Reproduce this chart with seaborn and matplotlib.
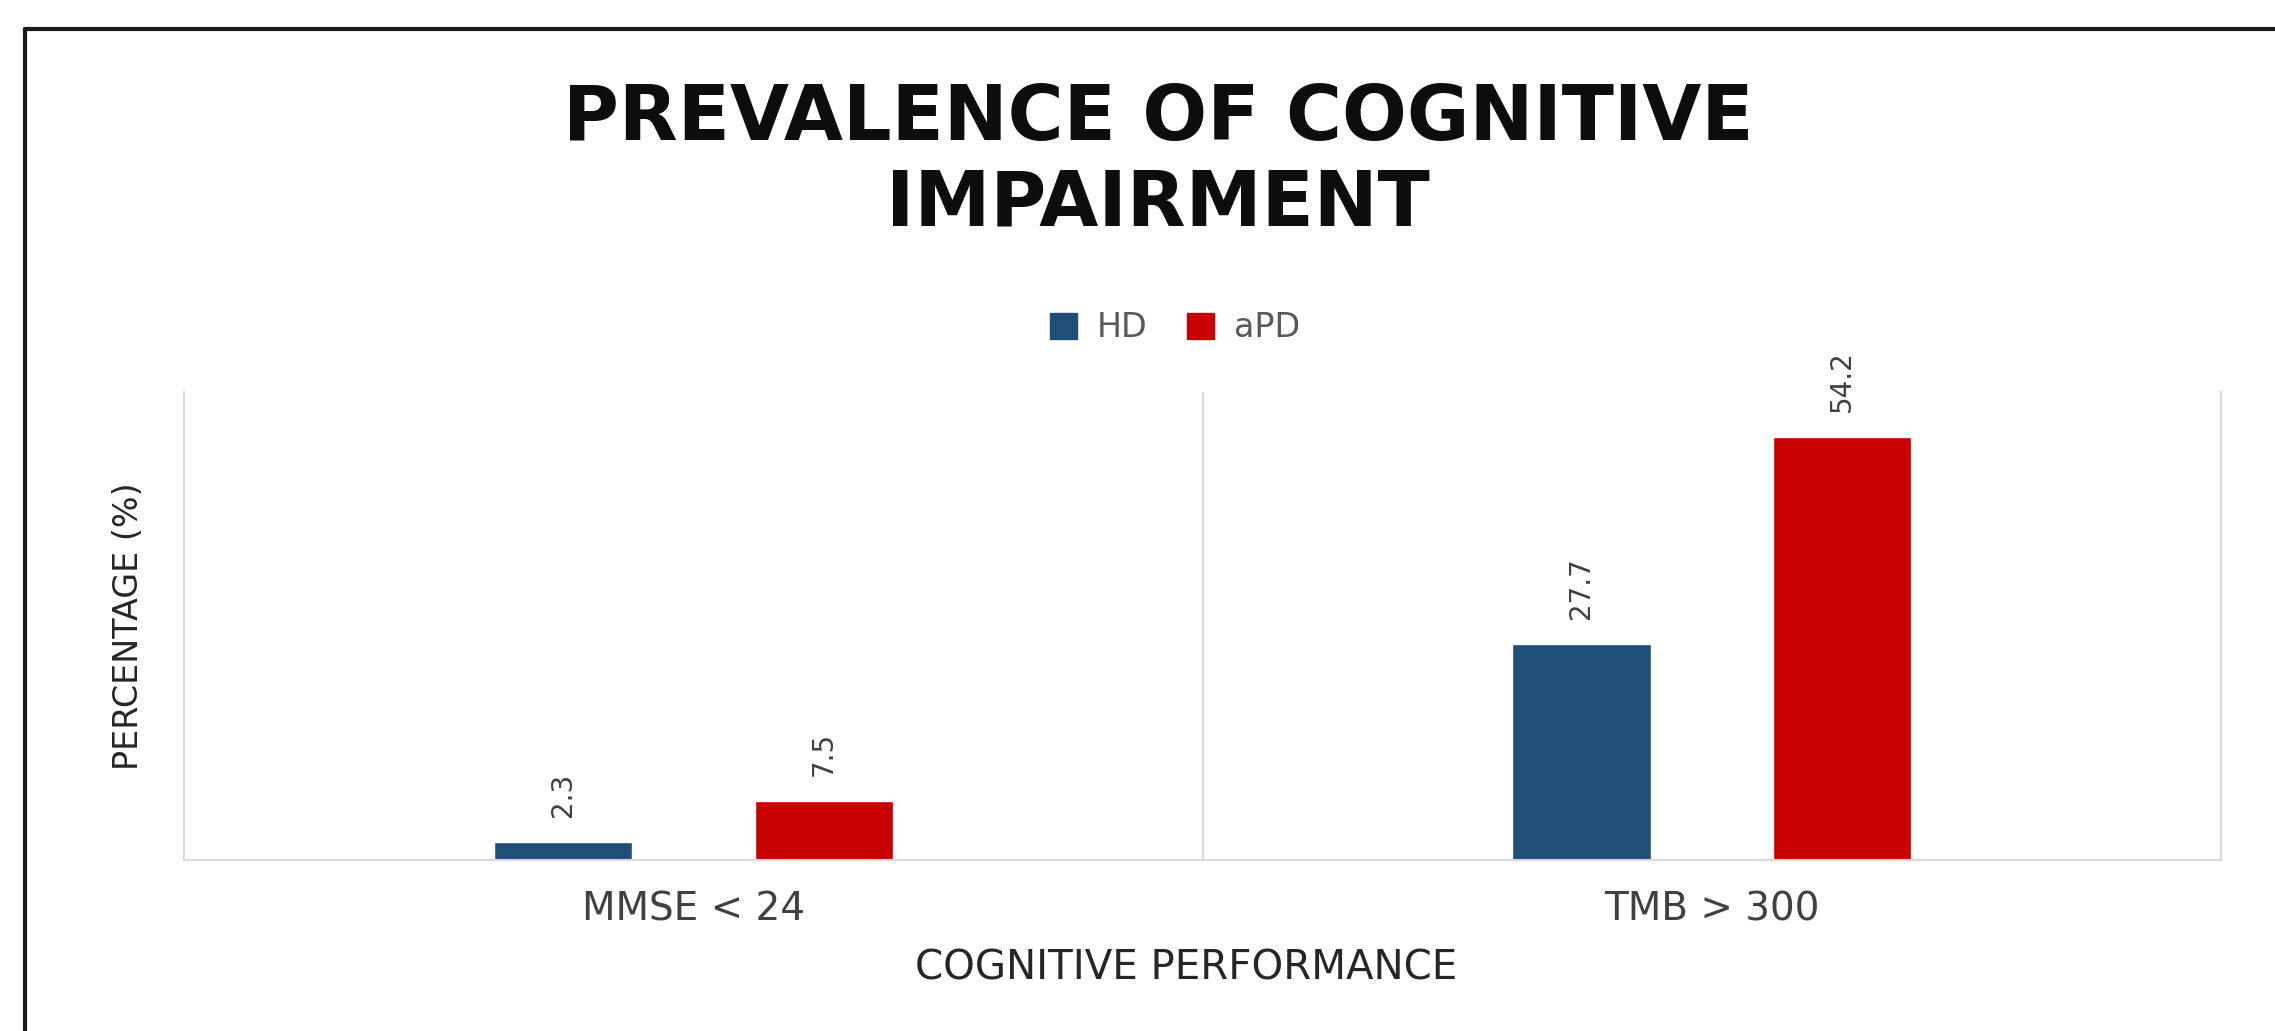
import matplotlib
matplotlib.use("Agg")
import matplotlib.pyplot as plt
import seaborn as sns
import pandas as pd
from matplotlib.patches import Patch
from matplotlib.lines import Line2D

# ---- data ----
categories = ["MMSE < 24", "TMB > 300"]
groups = ["HD", "aPD"]
hd_values = [2.3, 27.7]
apd_values = [7.5, 54.2]
colors = ["#1F4E79", "#C80000"]

df = pd.DataFrame({
    "category": categories * 2,
    "group": [groups[0]] * len(categories) + [groups[1]] * len(categories),
    "value": hd_values + apd_values,
})

sns.set_theme(style="white")
plt.rcParams["font.family"] = ["DejaVu Sans"]

fig = plt.figure(figsize=(22.75, 10.31), dpi=100)
ax = fig.add_axes([0.0809, 0.1659, 0.8954, 0.4539])

sns.barplot(data=df, x="category", y="value", hue="group", order=categories,
            hue_order=groups, palette=colors, width=0.512, gap=0.47,
            ax=ax, legend=False, saturation=1, errorbar=None)

ax.set_xlim(-0.5, 1.5)
ax.set_ylim(0, 60)
ax.set_yticks([])
ax.tick_params(axis="x", length=0, pad=22, labelsize=28, labelcolor="#404040")

grid_col = "#D9D9D9"
for s in ["left", "right", "bottom"]:
    ax.spines[s].set_color(grid_col)
    ax.spines[s].set_linewidth(1.5)
ax.spines["top"].set_visible(False)
ax.axvline(0.5, color=grid_col, lw=1.5, zorder=0)

for cont in ax.containers:
    ax.bar_label(cont, fmt="%.1f", rotation=90, padding=18, fontsize=20, color="#404040")

ax.set_ylabel("PERCENTAGE (%)", fontsize=24, color="#262626")
ax.yaxis.set_label_coords(-0.019, 0.5)
ax.set_xlabel("COGNITIVE PERFORMANCE", fontsize=29, color="#262626")
ax.xaxis.set_label_coords(0.492, -0.233)
ax.xaxis.label.set_va("center")

handles = [Patch(facecolor=c, edgecolor=c) for c in colors]
fig.legend(handles, groups, loc="center", bbox_to_anchor=(0.5165, 0.682), ncol=2,
           frameon=False, fontsize=24, labelcolor="#595959", handlelength=0.8,
           handleheight=0.8, handletextpad=0.6, columnspacing=1.2)

fig.text(0.509, 0.843, "PREVALENCE OF COGNITIVE\nIMPAIRMENT", ha="center", va="center",
         fontsize=55, fontweight="bold", color="#0D0D0D", linespacing=1.2)

# outer frame (top and left edges visible)
W, H = 2275, 1031
fig.add_artist(Line2D([25 / W, 1.01], [1 - 29 / H, 1 - 29 / H], color="#1A1A1A", lw=3,
                      transform=fig.transFigure))
fig.add_artist(Line2D([25 / W, 25 / W], [1 - 29 / H, -0.01], color="#1A1A1A", lw=3,
                      transform=fig.transFigure))

fig.savefig("out.png", dpi=100, facecolor="white")
